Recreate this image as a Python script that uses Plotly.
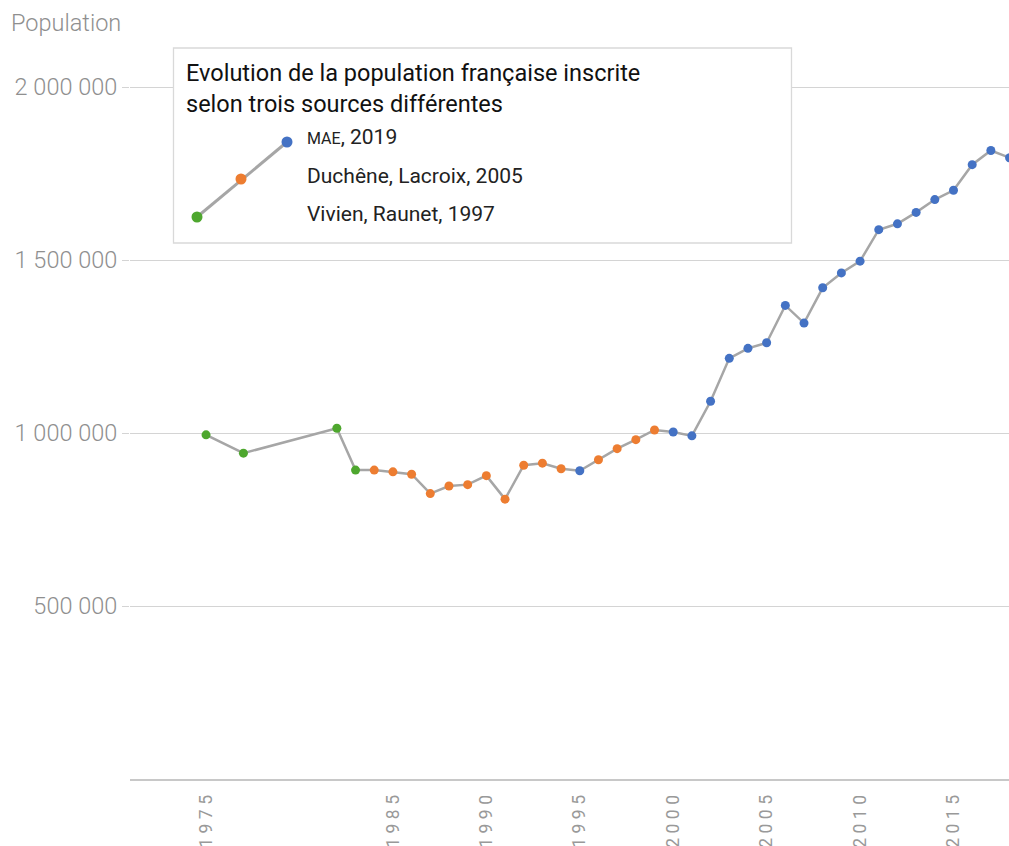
import plotly.graph_objects as go

# ---- data ----
years_vivien = [1975, 1977, 1982, 1983]
vals_vivien = [995000, 942000, 1014000, 893000]

years_duchene = [1984, 1985, 1986, 1987, 1988, 1989, 1990, 1991, 1992, 1993, 1994,
                 1996, 1997, 1998, 1999]
vals_duchene = [893000, 888000, 881000, 825000, 847000, 851000, 877000, 809000,
                907000, 913000, 897000, 923000, 955000, 981000, 1009000]

years_mae = [1995, 2000, 2001, 2002, 2003, 2004, 2005, 2006, 2007, 2008, 2009,
             2010, 2011, 2012, 2013, 2014, 2015, 2016, 2017, 2018]
vals_mae = [891000, 1003000, 992000, 1092000, 1216000, 1245000, 1261000, 1369000,
            1318000, 1420000, 1463000, 1497000, 1588000, 1605000, 1638000, 1675000,
            1702000, 1776000, 1817000, 1796000]

x_ticks = [1975, 1985, 1990, 1995, 2000, 2005, 2010, 2015]
y_ticks = [500000, 1000000, 1500000, 2000000]

legend_title = "Evolution de la population française inscrite<br>selon trois sources différentes"
legend_labels = ["<span style='font-size:16px'>MAE</span>, 2019",
                 "Duchêne, Lacroix, 2005",
                 "Vivien, Raunet, 1997"]

c_blue = "#4472C4"
c_orange = "#ED7D31"
c_green = "#4EA72E"
c_line = "#A6A6A6"
grey_txt = "#8F8F8F"

# ---- geometry helpers (pixel -> paper) ----
W, H = 1009, 846
ML, MR, MT, MB = 130, 0, 0, 67
PW, PH = W - ML - MR, H - MT - MB


def px(x):
    return (x - ML) / PW


def py(y):
    return (H - MB - y) / PH


all_pts = sorted(zip(years_vivien + years_duchene + years_mae,
                     vals_vivien + vals_duchene + vals_mae))

fig = go.Figure()
fig.add_trace(go.Scatter(x=[p[0] for p in all_pts], y=[p[1] for p in all_pts],
                         mode="lines", line=dict(color=c_line, width=2.5),
                         hoverinfo="skip", showlegend=False))
for yrs, vals, col in [(years_vivien, vals_vivien, c_green),
                       (years_duchene, vals_duchene, c_orange),
                       (years_mae, vals_mae, c_blue)]:
    fig.add_trace(go.Scatter(x=yrs, y=vals, mode="markers",
                             marker=dict(color=col, size=9, line=dict(width=0)),
                             showlegend=False))

shapes = []
# legend box
shapes.append(dict(type="rect", xref="paper", yref="paper",
                   x0=px(173.5), x1=px(791.5), y0=py(243), y1=py(48),
                   fillcolor="white", line=dict(color="#D9D9D9", width=1.3),
                   layer="above"))
# legend sample line
lp = [(197, 217), (241, 179), (287, 142)]
shapes.append(dict(type="path", xref="paper", yref="paper",
                   path="M %f,%f L %f,%f" % (px(lp[0][0]), py(lp[0][1]), px(lp[2][0]), py(lp[2][1])),
                   line=dict(color=c_line, width=3), layer="above"))
for (cx, cy), col in zip(lp, [c_green, c_orange, c_blue]):
    shapes.append(dict(type="circle", xref="paper", yref="paper",
                       xsizemode="pixel", ysizemode="pixel",
                       xanchor=px(cx), yanchor=py(cy),
                       x0=-5.5, x1=5.5, y0=-5.5, y1=5.5,
                       fillcolor=col, line=dict(width=0), layer="above"))

annotations = [
    dict(text="Population", xref="paper", yref="paper", x=px(9), y=py(23),
         xanchor="left", yanchor="middle", showarrow=False,
         font=dict(family="Roboto", size=23.5, color=grey_txt, weight=300)),
    dict(text=legend_title, xref="paper", yref="paper", x=px(184), y=py(57),
         xanchor="left", yanchor="top", align="left", showarrow=False,
         font=dict(family="Roboto", size=23.5, color="#111111")),
]
for lab, yy in zip(legend_labels, [137, 176, 214]):
    annotations.append(dict(text=lab, xref="paper", yref="paper", x=px(305), y=py(yy),
                            xanchor="left", yanchor="middle", showarrow=False,
                            font=dict(family="Roboto", size=21, color="#222222")))

sp = "\u2005"
fig.update_layout(
    width=W, height=H,
    margin=dict(l=ML, r=MR, t=MT, b=MB, autoexpand=False),
    paper_bgcolor="white", plot_bgcolor="white",
    separators=", ",
    showlegend=False,
    shapes=shapes, annotations=annotations,
    xaxis=dict(range=[1970.93, 2017.97], tickmode="array", tickvals=x_ticks,
               ticktext=[sp.join(str(t)) for t in x_ticks],
               tickangle=-90, showgrid=False, zeroline=False,
               showline=True, linecolor="#C8C8C8", linewidth=2,
               ticks="outside", ticklen=7, tickcolor="rgba(0,0,0,0)",
               tickfont=dict(family="Roboto", size=17.5, color="#999999", weight=400),
               automargin=False, fixedrange=True),
    yaxis=dict(range=[0, 2252000], tickmode="array", tickvals=y_ticks,
               tickformat=",d", showgrid=True, gridcolor="#D4D4D4", gridwidth=1,
               zeroline=False, showline=False,
               ticks="outside", ticklen=7, tickcolor="#D4D4D4",
               tickfont=dict(family="Roboto", size=23.5, color=grey_txt, weight=300),
               automargin=False, fixedrange=True),
)

fig.write_html("out.html", config={"displayModeBar": False},
               post_script="document.body.style.margin='0px';")
